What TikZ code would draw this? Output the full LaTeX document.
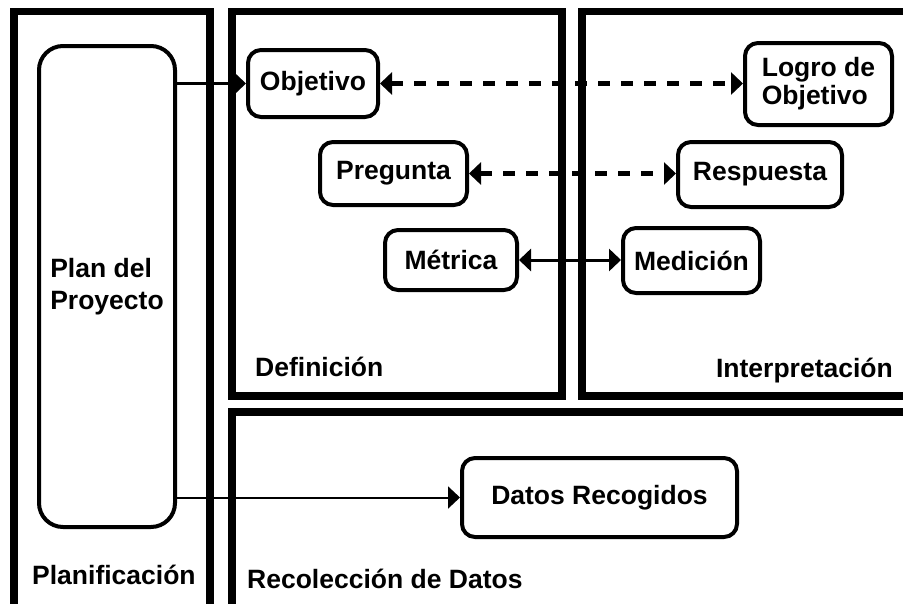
\documentclass[tikz,border=0pt]{standalone}
\usepackage{fontspec}
\setmainfont{Liberation Sans}
\usetikzlibrary{arrows.meta}

\begin{document}
\begin{tikzpicture}[x=1pt,y=-1pt,
  font=\fontsize{26.5}{30}\selectfont\bfseries,
  frame/.style={line width=7.5pt},
  lbl/.style={inner sep=0pt},
  box/.style={draw,line width=4pt,rounded corners=13pt,inner sep=0pt,align=center},
  link/.style={line width=3pt,-{Triangle[length=12pt,width=22pt]}},
  both/.style={line width=3pt,{Triangle[length=12pt,width=22pt]}-{Triangle[length=12pt,width=22pt]}}]
\useasboundingbox (0,0) rectangle (903,603);
\clip (0,0) rectangle (903,603);
% the four frames
\draw[frame] (14,11.5) rectangle (210,640);
\draw[frame] (232,11.5) rectangle (562,396);
\draw[frame] (582,11.5) rectangle (940,396);
\draw[frame] (232,412) rectangle (940,640);
% the frame labels
\node[lbl,anchor=base west] (planlbl) at (32,584) {Planificación};
\node[lbl,anchor=base west] (deflbl) at (255,376) {Definición};
\node[lbl,anchor=base east] (intlbl) at (893,377) {Interpretación};
\node[lbl,anchor=base west] (reclbl) at (247,588) {Recolección de Datos};
% the boxes
\node[box,minimum width=136pt,minimum height=481pt,rounded corners=24pt,align=left,
  font=\fontsize{26.5}{32}\selectfont\bfseries] (plan) at (107,286.5) {Plan del\\Proyecto};
\node[box,minimum width=130pt,minimum height=67pt] (obj) at (313,83.5) {Objetivo};
\node[box,minimum width=147pt,minimum height=82pt,align=left,
  font=\fontsize{26.5}{28}\selectfont\bfseries] (logro) at (818.5,84) {Logro de\\Objetivo};
\node[box,minimum width=147pt,minimum height=63pt] (preg) at (393.5,173.5) {Pregunta};
\node[box,minimum width=164pt,minimum height=65pt] (resp) at (760,174.5) {Respuesta};
\node[box,minimum width=132pt,minimum height=60pt] (metr) at (451,260) {Métrica};
\node[box,minimum width=137pt,minimum height=65pt] (medi) at (691.5,260.5) {Medición};
\node[box,minimum width=275pt,minimum height=79pt] (datos) at (599.5,497.5) {Datos Recogidos};
% the connectors
\draw[link] (plan.east |- obj.west) -- (obj.west);
\draw[link,line width=2pt] (plan.east |- datos.west) -- (datos.west);
\draw[both,line width=4.5pt,dash pattern=on 12pt off 11pt] (obj.east) -- (obj.east -| logro.west);
\draw[both,line width=4.5pt,dash pattern=on 12pt off 11pt] (preg.east) -- (preg.east -| resp.west);
\draw[both] (metr.east) -- (metr.east -| medi.west);
\end{tikzpicture}
\end{document}
